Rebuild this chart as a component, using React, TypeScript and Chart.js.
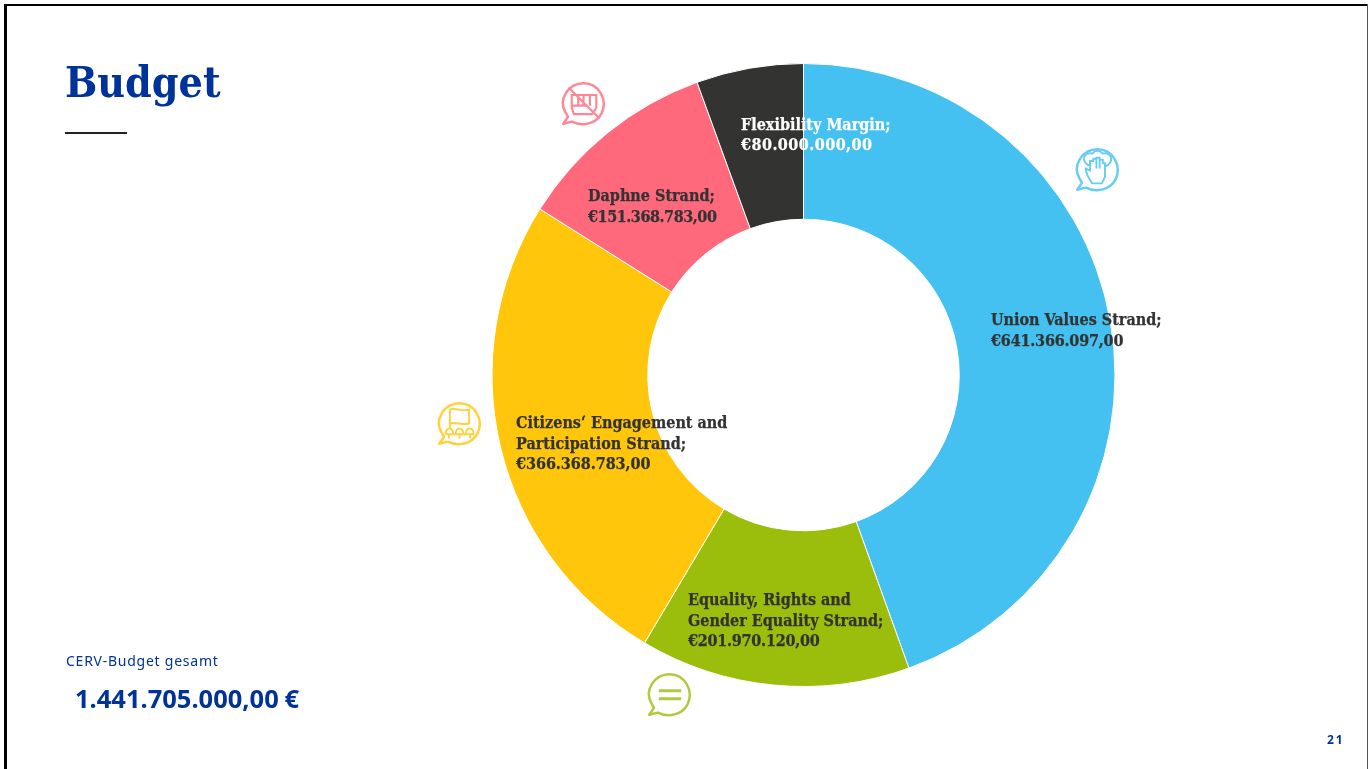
import React, { useEffect, useRef } from "react";
import { Chart, registerables } from "chart.js";

Chart.register(...registerables);

const categories = [
  "Union Values Strand;",
  "Equality, Rights and Gender Equality Strand;",
  "Citizens‘ Engagement and Participation Strand;",
  "Daphne Strand;",
  "Flexibility Margin;",
];
const values = [641366097, 201970120, 366368783, 151368783, 80000000];
const valueLabels = ["€641.366.097,00", "€201.970.120,00", "€366.368.783,00", "€151.368.783,00", "€80.000.000,00"];
const labelLines = [
  ["Union Values Strand;"],
  ["Equality, Rights and", "Gender Equality Strand;"],
  ["Citizens‘ Engagement and", "Participation Strand;"],
  ["Daphne Strand;"],
  ["Flexibility Margin;"],
];
const colors = ["#44C1F0", "#9BBD0C", "#FFC60B", "#FF697B", "#333432"];
const textColors = ["#333333", "#333333", "#333333", "#333333", "#FFFFFF"];
const valueSpacing = ["-0.2px", "-0.25px", "-0.05px", "-0.45px", "0.45px"];
const labelAnchors = [
  { x: 991, y: 321 },
  { x: 688, y: 601 },
  { x: 516, y: 424 },
  { x: 588, y: 197 },
  { x: 741, y: 125.5 },
];
const SERIF = '"DejaVu Serif Condensed", "DejaVu Serif", serif';
const BLUE = "#003399";

const labelPlugin = {
  id: "sliceLabels",
  afterDatasetsDraw(chart: any) {
    const ctx = chart.ctx;
    ctx.save();
    ctx.textBaseline = "middle";
    ctx.textAlign = "left";
    ctx.font = `bold 16px ${SERIF}`;
    categories.forEach((_, i) => {
      const text = labelLines[i];
      ctx.fillStyle = textColors[i];
      ctx.strokeStyle = textColors[i];
      ctx.lineWidth = 0.25;
      (ctx as any).letterSpacing = "0px";
      text.forEach((t, j) => {
        ctx.fillText(t, labelAnchors[i].x, labelAnchors[i].y + j * 20.5);
        ctx.strokeText(t, labelAnchors[i].x, labelAnchors[i].y + j * 20.5);
      });
      (ctx as any).letterSpacing = valueSpacing[i];
      const vy = labelAnchors[i].y + text.length * 20.5;
      ctx.fillText(valueLabels[i], labelAnchors[i].x, vy);
      ctx.strokeText(valueLabels[i], labelAnchors[i].x, vy);
    });
    ctx.restore();
  },
};

function Icon({ cx, cy, color, kind }: { cx: number; cy: number; color: string; kind: string }) {
  const s = 47;
  return (
    <svg
      width={s}
      height={s}
      viewBox="-22 -22 44 44"
      style={{ position: "absolute", left: cx - s / 2, top: cy - s / 2, opacity: 0.8 }}
      fill="none"
      stroke={color}
      strokeWidth={2.3}
    >
      <path d="M -14.5 12.5 L -19 19 L -11 17 C -1 22 12 19 17 9 C 23 -4 14 -19 0 -19 C -14 -19 -24 -4 -17 8 Z" strokeLinejoin="round" />
      {kind === "equal" && <path d="M -10 -3.5 H 11 M -10 4 H 11" strokeWidth={2.8} />}
      {kind === "flag" && (
        <path strokeWidth={1.8} d="M -9 -13 C -4 -15 3 -11 9 -13 V 0 C 3 2 -4 -2 -9 0 Z M -9 0 V 4 M -13 10 C -13 3 -6 3 -6 10 Z M -3.5 10 C -3.5 3 3.5 3 3.5 10 Z M 6 10 C 6 3 13 3 13 10 Z M -13 10 H 13 M -10 10 V 14 M 0 10 V 14 M 10 10 V 14" />
      )}
      {kind === "hand" && (
        <path strokeWidth={1.8} d="M -5 13 C -9 7 -11 3 -11 -1 L -7 1 V -8 H -4 V -10 H -1 V -11 H 2 V -9 H 5 V -6 H 7 V 7 L 4 13 Z M -6 -3 C -16 -6 -14 -17 -5 -15 C -2 -18 2 -18 5 -15 C 14 -17 16 -6 7 -3 M -1 -10 V -1 M 2 -10 V -1" />
      )}
      {kind === "fist" && (
        <path strokeWidth={2} d="M -11 -8 H 12 V 4 L 8 10 H -9 L -11 4 Z M -5 -8 V 2 M 0 -8 V 2 M 6 -8 V 2 M -11 2 H 3 M -14 -15 L 15 14" />
      )}
    </svg>
  );
}

export default function App() {
  const ref = useRef<HTMLCanvasElement>(null);
  useEffect(() => {
    document.body.style.margin = "0";
    document.body.style.background = "#fff";
    const chart = new Chart(ref.current as HTMLCanvasElement, {
      type: "doughnut",
      data: {
        labels: categories,
        datasets: [
          {
            data: values,
            backgroundColor: colors,
            borderColor: "#FFFFFF",
            borderWidth: 1,
          },
        ],
      },
      options: {
        animation: false,
        responsive: false,
        cutout: "50%",
        layout: { padding: { top: 63, bottom: 82, left: 239, right: 0 } },
        plugins: { legend: { display: false }, tooltip: { enabled: false }, title: { display: false } },
      },
      plugins: [labelPlugin],
    } as any);
    return () => chart.destroy();
  }, []);

  const abs = (o: React.CSSProperties): React.CSSProperties => ({ position: "absolute", whiteSpace: "nowrap", lineHeight: 1, ...o });

  return (
    <div style={{ position: "relative", width: 1368, height: 769, overflow: "hidden", background: "#fff" }}>
      <canvas ref={ref} width={1368} height={769} style={{ position: "absolute", left: 0, top: 0, width: 1368, height: 769 }} />
      <div style={{ position: "absolute", left: 4, top: 4, width: 2.5, height: 765, background: "#000" }} />
      <div style={{ position: "absolute", left: 4, top: 3.5, width: 1364, height: 2.5, background: "#000" }} />
      <div style={{ position: "absolute", left: 1366.5, top: 4, width: 1.5, height: 765, background: "#555" }} />
      <div style={abs({ left: 65, top: 61, fontFamily: SERIF, fontWeight: 700, fontSize: 42.5, color: BLUE })}>Budget</div>
      <div style={{ position: "absolute", left: 65, top: 131.5, width: 62, height: 2, background: "#222" }} />
      <div style={abs({ left: 66, top: 654, fontFamily: '"Noto Sans"', fontSize: 14, letterSpacing: 0.75, color: BLUE })}>CERV-Budget gesamt</div>
      <div style={abs({ left: 75, top: 686, fontFamily: '"Noto Sans"', fontWeight: 700, fontSize: 25.5, wordSpacing: -1, color: BLUE })}>1.441.705.000,00 €</div>
      <div style={abs({ left: 1327, top: 734, fontFamily: '"Noto Sans"', fontWeight: 700, fontSize: 12, letterSpacing: 2, color: BLUE })}>21</div>
      <Icon cx={1097.5} cy={169} color="#44C1F0" kind="hand" />
      <Icon cx={459} cy={423} color="#FFC60B" kind="flag" />
      <Icon cx={669} cy={694} color="#9BBD0C" kind="equal" />
      <Icon cx={583} cy={103} color="#FF697B" kind="fist" />
    </div>
  );
}
